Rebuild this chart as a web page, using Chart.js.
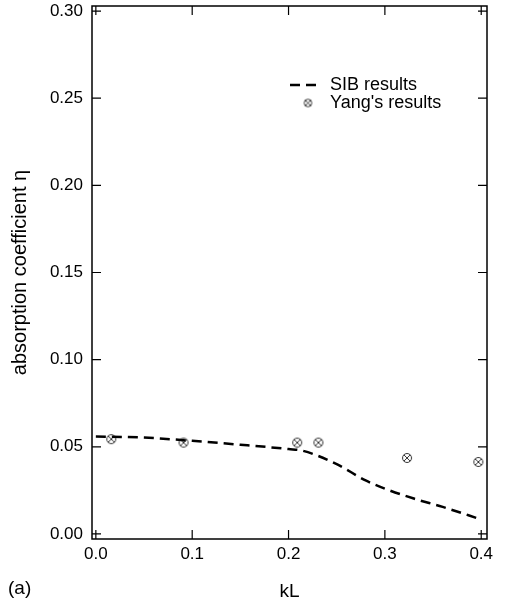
<!DOCTYPE html>
<html>
<head>
<meta charset="utf-8">
<script src="https://cdn.jsdelivr.net/npm/chart.js@4.4.1/dist/chart.umd.min.js"></script>
<style>
  html, body { margin: 0; padding: 0; background: #fff; overflow: hidden; }
  #wrap { position: relative; width: 505px; height: 603px; }
</style>
</head>
<body>
<div id="wrap"><canvas id="chart" width="505" height="603"></canvas></div>
<script>
// ---------- data ----------
const sibX = [0.0, 0.05, 0.1, 0.15, 0.2, 0.215, 0.25, 0.28, 0.3, 0.33, 0.36, 0.4];
const sibY = [0.0559, 0.0553, 0.0534, 0.0512, 0.0487, 0.0477, 0.0400, 0.0307, 0.0260, 0.0203, 0.0155, 0.0083];

const yangX = [0.016, 0.091, 0.209, 0.231, 0.323, 0.397];
const yangY = [0.0544, 0.0524, 0.0524, 0.0524, 0.0436, 0.0413];

const xTicks = [0.0, 0.1, 0.2, 0.3, 0.4];
const yTicks = [0.00, 0.05, 0.10, 0.15, 0.20, 0.25, 0.30];

const FONT = "'Liberation Sans', Arial, sans-serif";

// circle with an x inside, like the original marker
function makeMarker(r) {
  const s = Math.ceil(r * 2 + 3);
  const c = document.createElement("canvas");
  c.width = s; c.height = s;
  const g = c.getContext("2d");
  const m = s / 2, d = r * 0.7;
  g.strokeStyle = "#333";
  g.lineWidth = 1;
  g.beginPath();
  g.arc(m, m, r, 0, Math.PI * 2);
  g.stroke();
  g.beginPath();
  g.moveTo(m - d, m - d); g.lineTo(m + d, m + d);
  g.moveTo(m + d, m - d); g.lineTo(m - d, m + d);
  g.stroke();
  return c;
}
const marker = makeMarker(4.5);
const legendMarker = makeMarker(3.8);

// frame, inside ticks on all four sides, legend and the (a) tag
const framePlugin = {
  id: "frame",
  afterDraw(chart) {
    const ctx = chart.ctx;
    const a = chart.chartArea;
    const xs = chart.scales.x, ys = chart.scales.y;
    const len = 9;
    ctx.save();
    ctx.strokeStyle = "#000";
    ctx.lineWidth = 1.5;
    ctx.strokeRect(a.left, a.top, a.right - a.left, a.bottom - a.top);
    ctx.lineWidth = 1.2;
    ctx.beginPath();
    xTicks.forEach(function (v) {
      const px = xs.getPixelForValue(v);
      ctx.moveTo(px, a.bottom); ctx.lineTo(px, a.bottom - len);
      ctx.moveTo(px, a.top); ctx.lineTo(px, a.top + len);
    });
    yTicks.forEach(function (v) {
      const py = ys.getPixelForValue(v);
      ctx.moveTo(a.left, py); ctx.lineTo(a.left + len, py);
      ctx.moveTo(a.right, py); ctx.lineTo(a.right - len, py);
    });
    ctx.stroke();

    // legend
    ctx.fillStyle = "#000";
    ctx.font = "18px " + FONT;
    ctx.textBaseline = "middle";
    ctx.textAlign = "left";
    const ly1 = 85, ly2 = 103;
    ctx.lineWidth = 2.5;
    ctx.setLineDash([10, 6]);
    ctx.beginPath();
    ctx.moveTo(290, ly1); ctx.lineTo(318, ly1);
    ctx.stroke();
    ctx.setLineDash([]);
    ctx.fillText("SIB results", 330, ly1);
    ctx.drawImage(legendMarker, 308 - legendMarker.width / 2, ly2 - legendMarker.height / 2);
    ctx.fillText("Yang's results", 330, ly2);

    ctx.font = "19px " + FONT;
    ctx.fillText("(a)", 8, 589);
    ctx.restore();
  }
};

new Chart(document.getElementById("chart"), {
  type: "line",
  data: {
    datasets: [
      {
        label: "SIB results",
        data: sibX.map(function (x, i) { return { x: x, y: sibY[i] }; }),
        borderColor: "#000",
        borderWidth: 2.5,
        borderDash: [10, 6],
        pointRadius: 0,
        fill: false,
        cubicInterpolationMode: "monotone"
      },
      {
        label: "Yang's results",
        data: yangX.map(function (x, i) { return { x: x, y: yangY[i] }; }),
        showLine: false,
        pointStyle: marker,
        pointRadius: 5
      }
    ]
  },
  options: {
    responsive: false,
    animation: false,
    layout: { padding: { top: 5, right: 18, left: 0, bottom: 0 } },
    plugins: { legend: { display: false }, tooltip: { enabled: false } },
    scales: {
      x: {
        type: "linear",
        min: -0.004,
        max: 0.406,
        afterBuildTicks: function (s) { s.ticks = xTicks.map(function (v) { return { value: v }; }); },
        afterFit: function (s) { s.height = 64; s.paddingLeft = 0; s.paddingRight = 0; },
        grid: { display: false, drawTicks: false },
        border: { display: false },
        ticks: {
          color: "#000",
          font: { family: FONT, size: 17 },
          padding: 5,
          maxRotation: 0,
          callback: function (v) { return Number(v).toFixed(1); }
        },
        title: {
          display: true,
          text: "kL",
          color: "#000",
          font: { family: FONT, size: 19 },
          padding: { top: 12, bottom: 0 }
        }
      },
      y: {
        type: "linear",
        min: -0.0029,
        max: 0.3029,
        afterBuildTicks: function (s) { s.ticks = yTicks.map(function (v) { return { value: v }; }); },
        afterFit: function (s) { s.width = 92; s.paddingTop = 0; s.paddingBottom = 0; },
        grid: { display: false, drawTicks: false },
        border: { display: false },
        ticks: {
          color: "#000",
          font: { family: FONT, size: 17 },
          padding: 9,
          callback: function (v) { return Number(v).toFixed(2); }
        },
        title: {
          display: true,
          text: "absorption coefficient \u03b7",
          color: "#000",
          font: { family: FONT, size: 20 },
          padding: { top: 8, bottom: 6 }
        }
      }
    }
  },
  plugins: [framePlugin]
});
</script>
</body>
</html>
